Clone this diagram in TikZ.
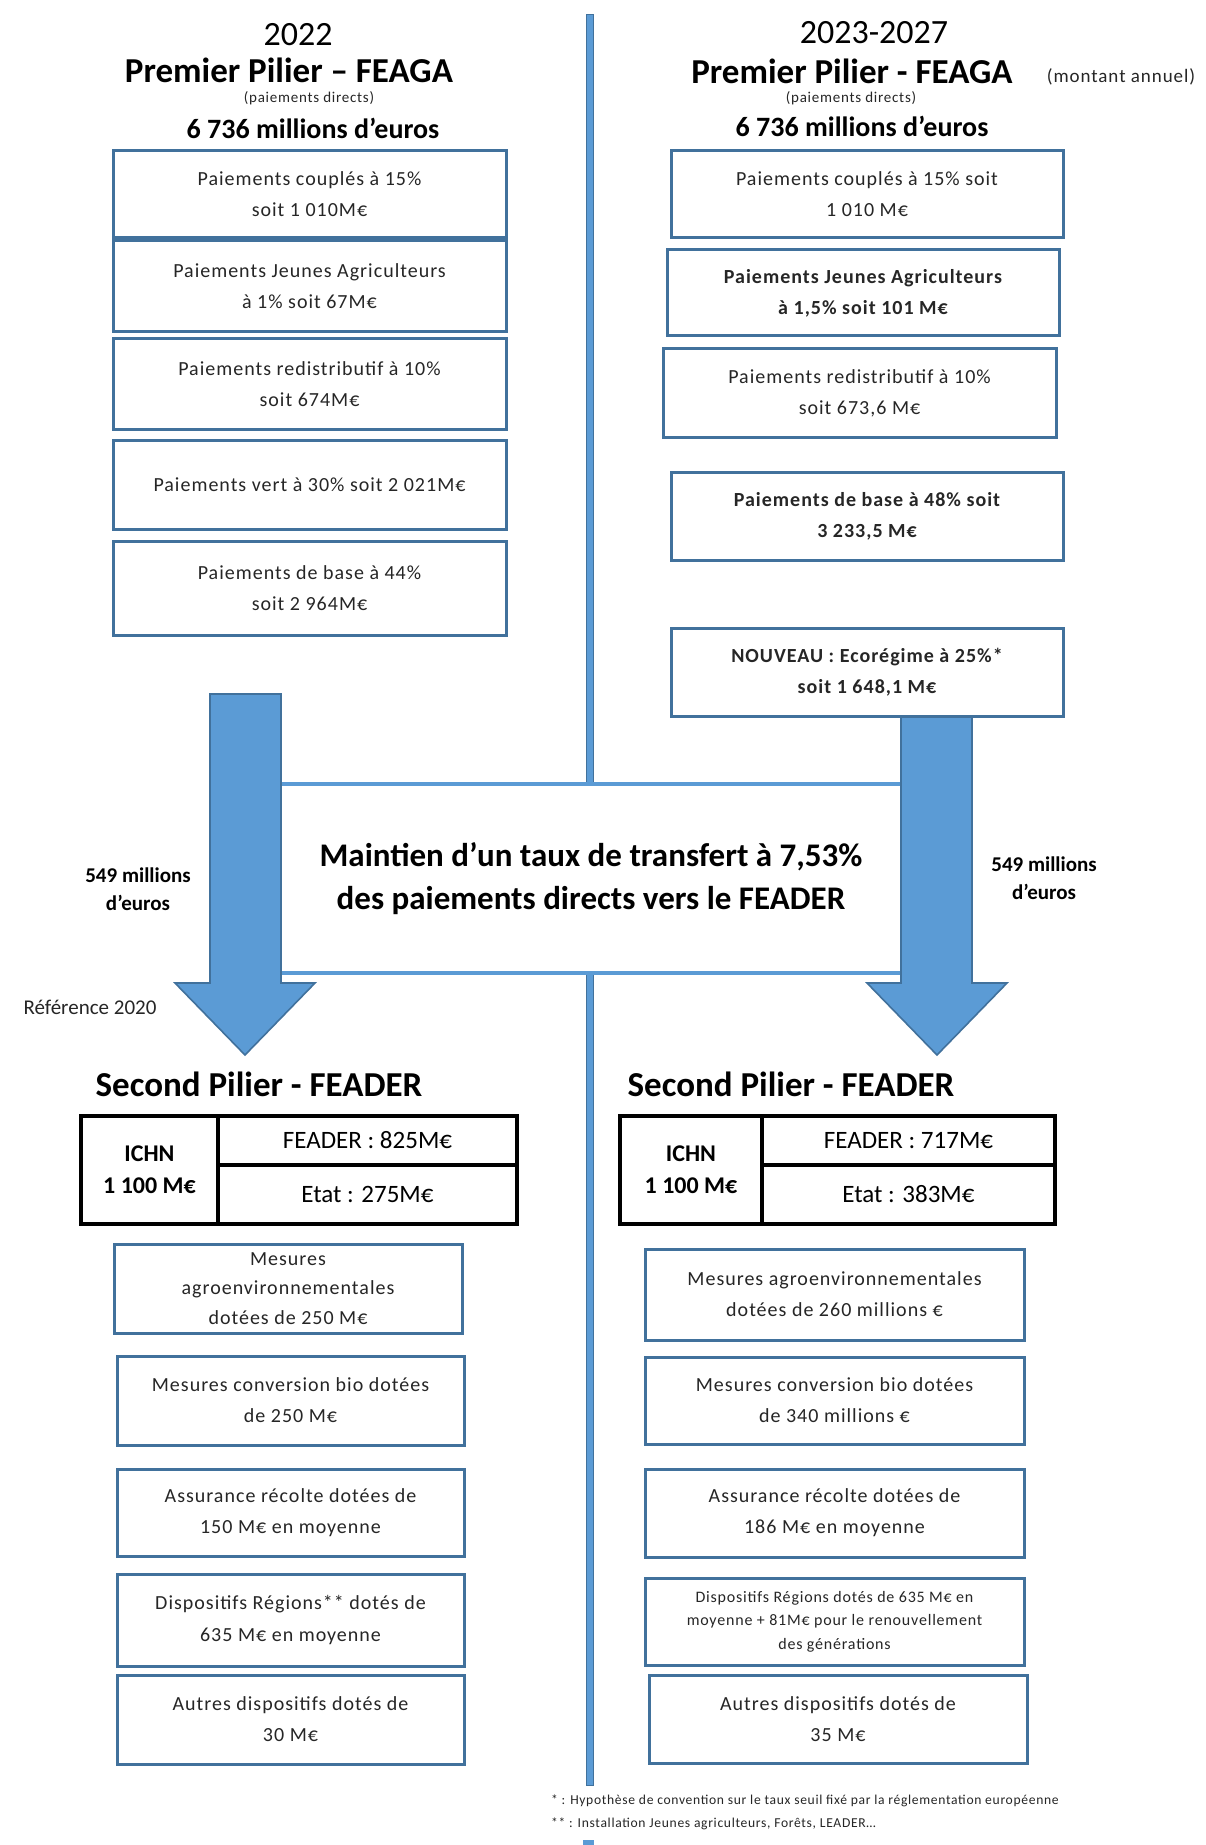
\documentclass[tikz,border=0pt]{standalone}
\usepackage{fontspec}
\setmainfont{Carlito}
\newfontfamily\boxfont[LetterSpace=5]{Carlito}
\definecolor{boxblue}{HTML}{41719C}
\definecolor{arrowblue}{HTML}{5B9BD5}
\definecolor{txtgray}{HTML}{262626}

\begin{document}
\begin{tikzpicture}[x=0.5pt, y=-0.5pt,
  pbox/.style={draw=boxblue, line width=1.5pt, fill=white, align=center, inner sep=0pt,
    text=txtgray, font=\boxfont\fontsize{10}{15.5}\selectfont},
  cell/.style={draw=black, line width=2pt, align=center, inner sep=0pt,
    font=\fontsize{12.5}{16}\selectfont},
  year/.style={font=\fontsize{17}{20}\selectfont},
  pilier/.style={inner sep=0pt, font=\bfseries\fontsize{17.5}{20}\selectfont},
  montant/.style={font=\bfseries\fontsize{14}{16}\selectfont},
  petit/.style={inner sep=0pt, font=\boxfont\fontsize{7.5}{9}\selectfont, text=txtgray},
  transfert/.style={font=\bfseries\fontsize{10.5}{14}\selectfont, align=center},
  bloc/.style={fill=arrowblue, draw=boxblue, line width=0.8pt},
  note/.style={anchor=west, font=\boxfont\fontsize{6.8}{8}\selectfont, text=txtgray}]

\useasboundingbox (0,0) rectangle (1205,1845);
\fill[white] (0,0) rectangle (1205,1845);

% separation line
\fill[arrowblue, draw=boxblue, line width=0.5pt] (586,15) rectangle (593,1785);
\fill[arrowblue] (583,1840) rectangle (594,1845);

% 2022
\node(anL) at (298,35)[year] {2022};
\node(pilierL) at (289,70)[pilier] {Premier Pilier -- FEAGA};
\node(pdL) at (309,98)[petit] {(paiements directs)};
\node(totL) at (313,128)[montant] {6 736 millions d'euros};

\node(l1) at (309.5,194.5)[pbox, minimum width=196.5pt, minimum height=43.5pt] {Paiements couplés à 15\%\\soit 1 010M€};
\node(l2) at (309.5,286.5)[pbox, minimum width=196.5pt, minimum height=45.5pt] {Paiements Jeunes Agriculteurs\\à 1\% soit 67M€};
\node(l3) at (309.5,384.5)[pbox, minimum width=196.5pt, minimum height=45.5pt] {Paiements redistributif à 10\%\\soit 674M€};
\node(l4) at (309.5,485)[pbox, minimum width=196.5pt, minimum height=44pt] {Paiements vert à 30\% soit 2 021M€};
\node(l5) at (309.5,588)[pbox, minimum width=196.5pt, minimum height=47pt] {Paiements de base à 44\%\\soit 2 964M€};

% 2023-2027
\node(anR) at (874,33)[year] {2023-2027};
\node(pilierR) at (852,71)[pilier] {Premier Pilier - FEAGA};
\node(annuel) at (1121,77)[petit, font=\boxfont\fontsize{9.5}{11}\selectfont] {(montant annuel)};
\node(pdR) at (851,98)[petit] {(paiements directs)};
\node(totR) at (862,126)[montant] {6 736 millions d'euros};

\node(r1) at (867,194.5)[pbox, minimum width=196pt, minimum height=43.5pt] {Paiements couplés à 15\% soit\\1 010 M€};
\node(r2) at (863,293)[pbox, minimum width=196pt, minimum height=43pt, font=\boxfont\bfseries\fontsize{10}{15.5}\selectfont] {Paiements Jeunes Agriculteurs\\à 1,5\% soit 101 M€};
\node(r3) at (859.5,393.5)[pbox, minimum width=196.5pt, minimum height=44.5pt] {Paiements redistributif à 10\%\\soit 673,6 M€};
\node(r4) at (867,516.5)[pbox, minimum width=196pt, minimum height=43.5pt, font=\boxfont\bfseries\fontsize{10}{15.5}\selectfont] {Paiements de base à 48\% soit\\3 233,5 M€};
\node(r5) at (867,672)[pbox, minimum width=196pt, minimum height=44pt, font=\boxfont\bfseries\fontsize{10}{15.5}\selectfont] {NOUVEAU : Ecorégime à 25\%*\\soit 1 648,1 M€};

% transfert
\node(taux) at (591,878.5)[fill=white, draw=arrowblue, line width=2pt, minimum width=340pt, minimum height=94.5pt, align=center,
  font=\bfseries\fontsize{16.5}{21.5}\selectfont] {Maintien d’un taux de transfert à 7,53\%\\des paiements directs vers le FEADER};

\coordinate(hautL) at (245.5,694);
\coordinate(basL) at (245,1055);
\coordinate(hautR) at (936.5,717);
\coordinate(basR) at (937,1055);
\fill[bloc] (210,694) -- (281,694) -- (281,983) -- (315,983) -- (basL) -- (175,983) -- (210,983) -- cycle;
\fill[bloc] (901,717) -- (972,717) -- (972,983) -- (1007,983) -- (basR) -- (867,983) -- (901,983) -- cycle;

\node(millL) at (138,889)[transfert] {549 millions\\d'euros};
\node(millR) at (1044,878)[transfert] {549 millions\\d'euros};
\node(ref) at (90,1007)[font=\fontsize{10.5}{12}\selectfont, text=txtgray] {Référence 2020};

% second pilier
\node(feaderL) at (259,1084)[pilier] {Second Pilier - FEADER};
\node(feaderR) at (791,1084)[pilier] {Second Pilier - FEADER};

\node(ichnL) at (149.5,1170)[cell, minimum width=68.5pt, minimum height=54pt, font=\bfseries\fontsize{12}{16}\selectfont] {ICHN\\1 100 M€};
\node(fdL) at (367.5,1140.5)[cell, minimum width=149.5pt, minimum height=24.5pt] {FEADER : 825M€};
\node(etatL) at (367.5,1194.5)[cell, minimum width=149.5pt, minimum height=29.5pt] {Etat : 275M€};

\node(ichnR) at (691,1170)[cell, minimum width=71pt, minimum height=54pt, font=\bfseries\fontsize{12}{16}\selectfont] {ICHN\\1 100 M€};
\node(fdR) at (908.5,1140.5)[cell, minimum width=146.5pt, minimum height=24.5pt] {FEADER : 717M€};
\node(etatR) at (908.5,1194.5)[cell, minimum width=146.5pt, minimum height=29.5pt] {Etat : 383M€};

\node(la) at (288,1288.5)[pbox, minimum width=174pt, minimum height=44.5pt, font=\boxfont\fontsize{10}{14.75}\selectfont] {Mesures\\agroenvironnementales\\dotées de 250 M€};
\node(lb) at (290.5,1400.5)[pbox, minimum width=173.5pt, minimum height=44.5pt] {Mesures conversion bio dotées\\de 250 M€};
\node(lc) at (290.5,1512.5)[pbox, minimum width=173.5pt, minimum height=43.5pt] {Assurance récolte dotées de\\150 M€ en moyenne};
\node(ld) at (290.5,1620)[pbox, minimum width=173.5pt, minimum height=46pt, font=\boxfont\fontsize{10}{16}\selectfont] {Dispositifs Régions** dotés de\\635 M€ en moyenne};
\node(le) at (290.5,1719.5)[pbox, minimum width=173.5pt, minimum height=44.5pt] {Autres dispositifs dotés de\\30 M€};

\node(ra) at (834.5,1294.5)[pbox, minimum width=189.5pt, minimum height=45.5pt] {Mesures agroenvironnementales\\dotées de 260 millions €};
\node(rb) at (834.5,1400.5)[pbox, minimum width=189.5pt, minimum height=43.5pt] {Mesures conversion bio dotées\\de 340 millions €};
\node(rc) at (834.5,1513)[pbox, minimum width=189.5pt, minimum height=44pt] {Assurance récolte dotées de\\186 M€ en moyenne};
\node(rd) at (834.5,1621.5)[pbox, minimum width=189.5pt, minimum height=43.5pt, font=\boxfont\fontsize{8}{11.75}\selectfont] {Dispositifs Régions dotés de 635 M€ en\\moyenne + 81M€ pour le renouvellement\\des générations};
\node(re) at (838,1719)[pbox, minimum width=189pt, minimum height=44pt] {Autres dispositifs dotés de\\35 M€};

\node(note1) at (544,1801)[note] {* : Hypothèse de convention sur le taux seuil fixé par la réglementation européenne};
\node(note2) at (544,1824)[note] {** : Installation Jeunes agriculteurs, Forêts, LEADER…};

\end{tikzpicture}
\end{document}
